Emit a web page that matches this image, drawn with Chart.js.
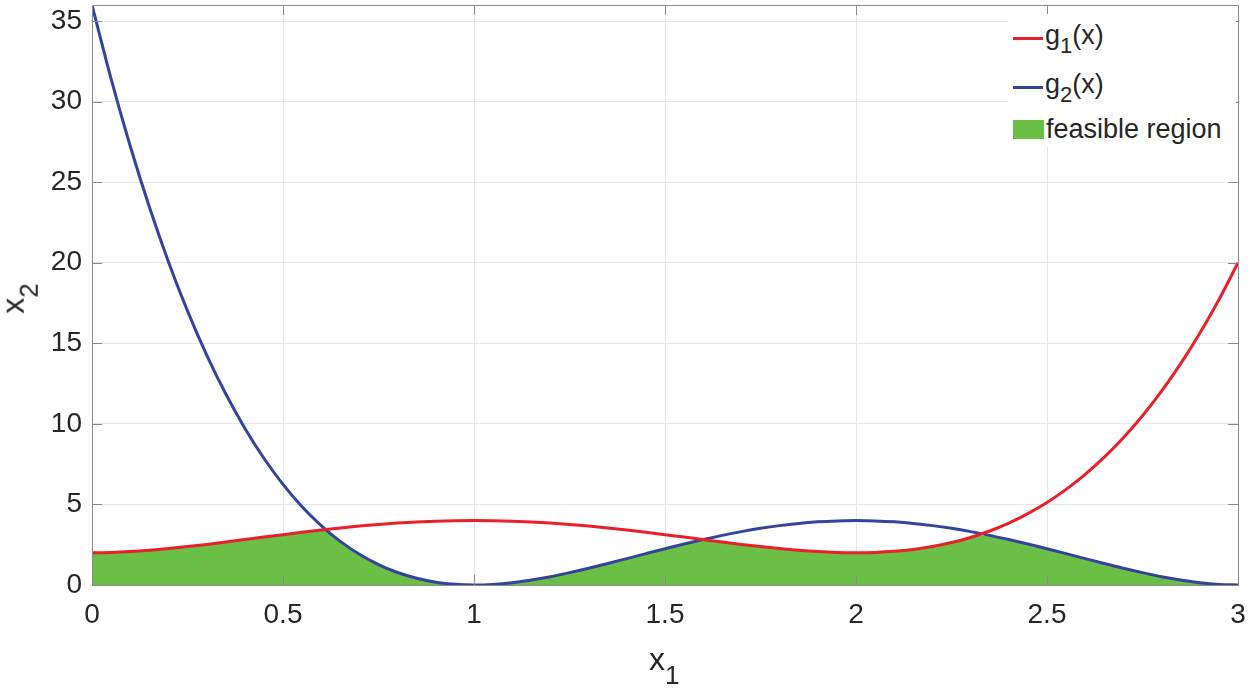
<!DOCTYPE html>
<html>
<head>
<meta charset="utf-8">
<script src="https://cdn.jsdelivr.net/npm/chart.js@4"></script>
<style>
  html, body { margin: 0; padding: 0; background: #fff; }
  #wrap { position: relative; width: 1250px; height: 689px; font-family: "Liberation Sans", Arial, sans-serif; color: #262626; }
  #chart { position: absolute; left: 0; top: 0; }
  .lbl { position: absolute; white-space: nowrap; line-height: 1; }
  .lbl sub { font-size: 26px; vertical-align: -14px; line-height: 1; }
  #legend { position: absolute; left: 1008px; top: 14px; width: 228px; height: 132px; background: #fff; }
  .row { position: absolute; left: 0; height: 32px; display: flex; align-items: center; font-size: 27px; }
  .row sub { font-size: 22px; vertical-align: -9px; line-height: 1; }
  .swatch-line { width: 30px; height: 3px; margin-left: 5px; margin-right: 2px; }
  .swatch-box { width: 31px; height: 19px; margin-left: 5px; margin-right: 2px; }
</style>
</head>
<body>
<div id="wrap">
  <canvas id="chart" width="1250" height="689"></canvas>
  <div class="lbl" id="xlabel" style="left:649px; top:643px; font-size:32px;">x<sub>1</sub></div>
  <div class="lbl" id="ylabel" style="left:4px; top:276px; font-size:32px; transform: rotate(-90deg); transform-origin: 50% 50%;">x<sub>2</sub></div>
  <div id="legend">
    <div class="row" style="top:8px;"><div class="swatch-line" style="background:#e8202a"></div><span>g<sub>1</sub>(x)</span></div>
    <div class="row" style="top:57px;"><div class="swatch-line" style="background:#34449c"></div><span>g<sub>2</sub>(x)</span></div>
    <div class="row" style="top:99px;"><div class="swatch-box" style="background:#6bbf47"></div><span>feasible region</span></div>
  </div>
</div>
<script>
// x1 samples
const xs = [0, 0.05, 0.1, 0.15, 0.2, 0.25, 0.3, 0.35, 0.4, 0.45, 0.5, 0.55, 0.6, 0.65, 0.7, 0.75, 0.8, 0.85, 0.9, 0.95,
            1, 1.05, 1.1, 1.15, 1.2, 1.25, 1.3, 1.35, 1.4, 1.45, 1.5, 1.55, 1.6, 1.65, 1.7, 1.75, 1.8, 1.85, 1.9, 1.95,
            2, 2.05, 2.1, 2.15, 2.2, 2.25, 2.3, 2.35, 2.4, 2.45, 2.5, 2.55, 2.6, 2.65, 2.7, 2.75, 2.8, 2.85, 2.9, 2.95, 3];

// g1(x) - red curve
const g1 = [2.000, 2.019, 2.072, 2.154, 2.259, 2.383, 2.520, 2.667, 2.819, 2.973, 3.125, 3.272, 3.411, 3.540, 3.656, 3.758, 3.843, 3.911, 3.960, 3.990,
            4.000, 3.990, 3.960, 3.911, 3.843, 3.758, 3.656, 3.540, 3.411, 3.272, 3.125, 2.973, 2.819, 2.667, 2.520, 2.383, 2.259, 2.154, 2.072, 2.019,
            2.000, 2.021, 2.088, 2.208, 2.387, 2.633, 2.952, 3.353, 3.843, 4.431, 5.125, 5.934, 6.867, 7.934, 9.144, 10.508, 12.035, 13.737, 15.624, 17.708, 20.000];

// g2(x) - blue curve
const g2 = [36.000, 31.416, 27.248, 23.474, 20.070, 17.016, 14.288, 11.868, 9.734, 7.868, 6.250, 4.862, 3.686, 2.706, 1.904, 1.266, 0.774, 0.416, 0.176, 0.042,
            0.000, 0.038, 0.144, 0.308, 0.518, 0.766, 1.040, 1.334, 1.638, 1.946, 2.250, 2.544, 2.822, 3.080, 3.312, 3.516, 3.686, 3.822, 3.920, 3.980,
            4.000, 3.980, 3.920, 3.822, 3.686, 3.516, 3.312, 3.080, 2.822, 2.544, 2.250, 1.946, 1.638, 1.334, 1.040, 0.766, 0.518, 0.308, 0.144, 0.038, 0.000];

const xTicks = [0, 0.5, 1, 1.5, 2, 2.5, 3];
const yTicks = [0, 5, 10, 15, 20, 25, 30, 35];

const FONT = '"Liberation Sans", Arial, sans-serif';

// feasible region = below both constraint curves
const feasible = xs.map((x, i) => ({ x: x, y: Math.min(g1[i], g2[i]) }));
const pts = arr => xs.map((x, i) => ({ x: x, y: arr[i] }));

// MATLAB style box with inward ticks on all four sides
const framePlugin = {
    id: 'frame',
    afterDatasetsDraw(chart) {
        const { ctx, chartArea: a, scales } = chart;
        ctx.save();
        ctx.strokeStyle = '#8a8a8a';
        ctx.lineWidth = 1;
        ctx.beginPath();
        xTicks.forEach(v => {
            const px = Math.round(scales.x.getPixelForValue(v)) + 0.5;
            ctx.moveTo(px, a.bottom); ctx.lineTo(px, a.bottom - 10);
            ctx.moveTo(px, a.top); ctx.lineTo(px, a.top + 10);
        });
        yTicks.forEach(v => {
            const py = Math.round(scales.y.getPixelForValue(v)) + 0.5;
            ctx.moveTo(a.left, py); ctx.lineTo(a.left + 10, py);
            ctx.moveTo(a.right, py); ctx.lineTo(a.right - 10, py);
        });
        ctx.stroke();
        ctx.strokeRect(Math.round(a.left) + 0.5, Math.round(a.top) + 0.5, Math.round(a.right - a.left), Math.round(a.bottom - a.top));
        ctx.restore();
    }
};

new Chart(document.getElementById('chart').getContext('2d'), {
    type: 'line',
    data: {
        datasets: [{
            label: 'g1(x)',
            data: pts(g1),
            borderColor: '#e8202a',
            borderWidth: 3,
            pointRadius: 0,
            cubicInterpolationMode: 'monotone',
            fill: false,
            order: 0
        }, {
            label: 'g2(x)',
            data: pts(g2),
            borderColor: '#34449c',
            borderWidth: 3,
            pointRadius: 0,
            cubicInterpolationMode: 'monotone',
            fill: false,
            order: 1
        }, {
            label: 'feasible region',
            data: feasible,
            borderWidth: 0,
            borderColor: 'rgba(0,0,0,0)',
            backgroundColor: '#6bbf47',
            pointRadius: 0,
            cubicInterpolationMode: 'monotone',
            fill: 'origin',
            order: 2
        }]
    },
    options: {
        responsive: false,
        animation: false,
        events: [],
        layout: { padding: { top: 5, right: 12, left: 0, bottom: 0 } },
        plugins: { legend: { display: false }, tooltip: { enabled: false } },
        scales: {
            x: {
                type: 'linear',
                min: 0,
                max: 3,
                afterBuildTicks: s => { s.ticks = xTicks.map(v => ({ value: v })); },
                afterFit: s => { s.height = 104; s.paddingLeft = 0; s.paddingRight = 0; },
                grid: { color: '#e6e6e6', lineWidth: 1, drawTicks: false },
                border: { display: false },
                ticks: { padding: 13, color: '#262626', font: { family: FONT, size: 28 }, maxRotation: 0, callback: v => String(v) }
            },
            y: {
                type: 'linear',
                min: 0,
                max: 36,
                afterBuildTicks: s => { s.ticks = yTicks.map(v => ({ value: v })); },
                afterFit: s => { s.width = 92; s.paddingTop = 0; s.paddingBottom = 0; },
                grid: { color: '#e6e6e6', lineWidth: 1, drawTicks: false },
                border: { display: false },
                ticks: { padding: 10, color: '#262626', font: { family: FONT, size: 28 }, callback: v => String(v) }
            }
        }
    },
    plugins: [framePlugin]
});
</script>
</body>
</html>
